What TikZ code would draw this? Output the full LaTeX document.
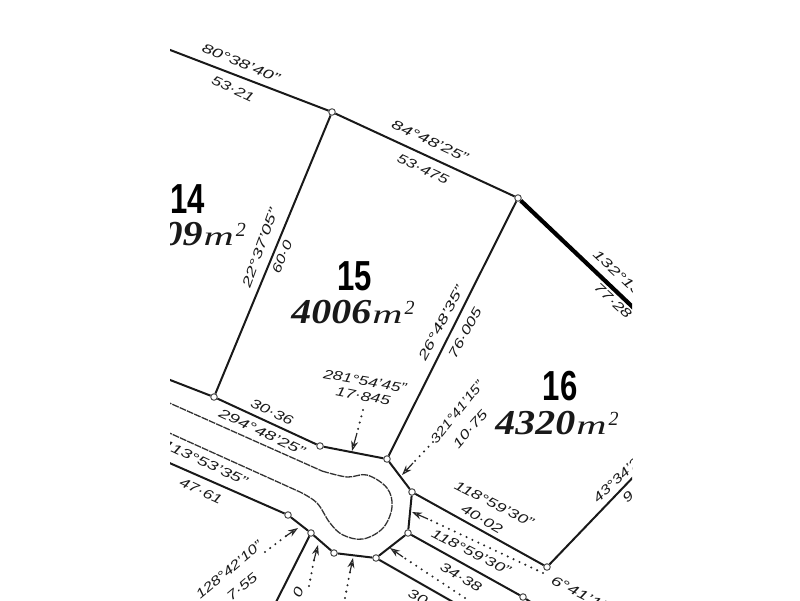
\documentclass[tikz,border=0pt]{standalone}
\usepackage{fontspec}
\setmainfont{Liberation Sans}
\newfontfamily\ser{Liberation Serif}
\usetikzlibrary{arrows.meta}
\newcommand\lb[2][1.48]{\scalebox{#1}[1]{\fontsize{13}{13}\selectfont\itshape #2}}
\newcommand\lotno[1]{\scalebox{.74}[1]{\fontsize{42}{42}\selectfont\bfseries #1}}
\newcommand\areatxt[1]{{\ser\itshape\scalebox{1.14}[1]{\fontsize{35}{35}\selectfont\bfseries #1}\hspace{1pt}\scalebox{1.55}[1]{\fontsize{27}{27}\selectfont m}\hspace{2pt}\raisebox{9pt}{\fontsize{20}{20}\selectfont 2}}}
\tikzset{
 px/.style={x=1pt,y=-1pt},
 bd/.style={draw=black!90,line width=2pt},
 heavy/.style={draw=black,line width=4.2pt},
 rd/.style={draw=black!80,line width=1.3pt,dash pattern=on 7pt off 1pt},
 peg/.style={circle,draw=black!70,fill=white,line width=1pt,minimum size=6.5pt,inner sep=0pt},
 lab/.style={text=black!90,inner sep=0pt},
 lot/.style={inner sep=0pt},
 area/.style={text=black!90,inner sep=0pt},
 lead/.style={draw=black!85,line width=2.3pt,dash pattern=on 0pt off 6.5pt,line cap=round},
 tip/.style={draw=black!85,line width=1.2pt,-{Stealth[length=10pt,width=7pt,open]}},
}
\begin{document}
\begin{tikzpicture}[px]
\useasboundingbox (0,0) rectangle (800,600);
\begin{scope}
\clip (170,0) rectangle (632,600);
\coordinate (tl) at (165,48);
\coordinate (rdA) at (165,378);
\coordinate (rdB) at (165,461);
\coordinate (eR) at (640,314);
\coordinate (e16) at (640,470);
\coordinate (eS1) at (535,605);
\coordinate (eS2) at (460,606);
\coordinate (eS3) at (274,606);
\node[peg] (p1) at (332,112) {};
\node[peg] (p2) at (518,198) {};
\node[peg] (p3) at (214,397) {};
\node[peg] (p4) at (320,446) {};
\node[peg] (p5) at (387,459) {};
\node[peg] (p6) at (412,492) {};
\node[peg] (p7) at (408,533) {};
\node[peg] (p8) at (376,558) {};
\node[peg] (p9) at (334,553) {};
\node[peg] (p10) at (311,533) {};
\node[peg] (p11) at (288,515) {};
\node[peg] (p12) at (547,567) {};
\node[peg] (p13) at (523,597) {};
\draw[bd] (tl) -- (p1) -- (p2);
\draw[heavy] (p2) -- (eR);
\draw[bd] (p1) -- (p3);
\draw[bd] (p2) -- (p5);
\draw[bd] (rdA) -- (p3) -- (p4) -- (p5) -- (p6) -- (p7) -- (p8) -- (p9) -- (p10) -- (p11) -- (rdB);
\draw[bd] (p6) -- (p12) -- (e16);
\draw[bd] (p7) -- (p13) -- (eS1);
\draw[bd] (p8) -- (eS2);
\draw[bd] (p10) -- (eS3);
\draw[rd] (165,401) -- (322,471) plot[smooth,tension=.6] coordinates {(322,471) (347,477) (367,475) (387,488) (392,507) (383,528) (363,539) (343,535) (330,523) (317,503) (300,492)} -- (165,431);
\node[lab,rotate=-22] (t1) at (241,63) {\lb{80°38'40"}};
\node[lab,rotate=-25] (t2) at (233,89) {\lb[1.36]{53·21}};
\node[lab,rotate=-25] (t3) at (430,141) {\lb{84°48'25"}};
\node[lab,rotate=-25] (t4) at (423,169) {\lb[1.36]{53·475}};
\node[lab,rotate=70] (t5) at (260,248) {\lb{22°37'05"}};
\node[lab,rotate=67] (t6) at (282,257) {\lb[1.3]{60·0}};
\node[lab,rotate=62] (t7) at (441,323) {\lb{26°48'35"}};
\node[lab,rotate=61] (t8) at (465,333) {\lb[1.36]{76·005}};
\node[lab,rotate=-43,anchor=west] (t9) at (595,252) {\lb{132°13'20"}};
\node[lab,rotate=-43] (t10) at (613,301) {\lb[1.36]{77·28}};
\node[lab,rotate=-25] (t11) at (272,412) {\lb[1.36]{30·36}};
\node[lab,rotate=-25] (t12) at (262,432) {\lb{294°48'25"}};
\node[lab,rotate=-10] (t14) at (365,381) {\lb[1.33]{281°54'45"}};
\node[lab,rotate=-11] (t15) at (363,396) {\lb[1.36]{17·845}};
\node[lab,rotate=51] (t16) at (457,412) {\lb[1.2]{321°41'15"}};
\node[lab,rotate=49] (t17) at (470,429) {\lb[1.36]{10·75}};
\node[lab,rotate=-27] (t18) at (494,504) {\lb[1.4]{118°59'30"}};
\node[lab,rotate=-30] (t19) at (482,519) {\lb[1.36]{40·02}};
\node[lab,rotate=-27] (t20) at (471,552) {\lb[1.4]{118°59'30"}};
\node[lab,rotate=-30] (t21) at (461,577) {\lb[1.36]{34·38}};
\node[lab,rotate=-25,anchor=east] (t22) at (247,482) {\lb{113°53'35"}};
\node[lab,rotate=-25] (t23) at (201,491) {\lb[1.36]{47·61}};
\node[lab,rotate=40] (t24) at (229,570) {\lb[1.3]{128°42'10"}};
\node[lab,rotate=40] (t25) at (242,587) {\lb[1.36]{7·55}};
\node[lab,rotate=43,anchor=west] (t26) at (595,500) {\lb[1.3]{43°34'20"}};
\node[lab,rotate=43] (t27) at (628,497) {\lb[1.36]{9}};
\node[lab,rotate=-27,anchor=west] (t28) at (552,579) {\lb{6°41'15"}};
\node[lab,rotate=-25] (t29) at (418,597) {\lb[1.36]{30}};
\node[lab,rotate=70] (t30) at (298,592) {\lb[1.36]{0}};
\node[lot,anchor=east] (n14) at (205,199) {\lotno{14}};
\node[area,anchor=east] (a14) at (246,234) {\areatxt{09}};
\node[lot] (n15) at (355,276) {\lotno{15}};
\node[area] (a15) at (353,312) {\areatxt{4006}};
\node[lot] (n16) at (560,386) {\lotno{16}};
\node[area] (a16) at (557,423) {\areatxt{4320}};
\coordinate (l1) at (363,410); \coordinate (l1m) at (357,433); \coordinate (l1b) at (352,451);
\draw[lead] (l1) -- (l1m); \draw[tip] (l1m) -- (l1b);
\coordinate (l2) at (433,442); \coordinate (l2m) at (413,463); \coordinate (l2b) at (402,475);
\draw[lead] (l2) -- (l2m); \draw[tip] (l2m) -- (l2b);
\coordinate (l3) at (543,573); \coordinate (l3m) at (428,519); \coordinate (l3b) at (412,512);
\draw[lead] (l3) -- (l3m); \draw[tip] (l3m) -- (l3b);
\coordinate (l4) at (465,598); \coordinate (l4m) at (403,557); \coordinate (l4b) at (390,548);
\draw[lead] (l4) -- (l4m); \draw[tip] (l4m) -- (l4b);
\coordinate (l5) at (265,552); \coordinate (l5m) at (286,536); \coordinate (l5b) at (298,528);
\draw[lead] (l5) -- (l5m); \draw[tip] (l5m) -- (l5b);
\coordinate (l6) at (309,586); \coordinate (l6m) at (314,560); \coordinate (l6b) at (318,545);
\draw[lead] (l6) -- (l6m); \draw[tip] (l6m) -- (l6b);
\coordinate (l7) at (345,598); \coordinate (l7m) at (350,572); \coordinate (l7b) at (353,558);
\draw[lead] (l7) -- (l7m); \draw[tip] (l7m) -- (l7b);
\end{scope}
\end{tikzpicture}
\end{document}
